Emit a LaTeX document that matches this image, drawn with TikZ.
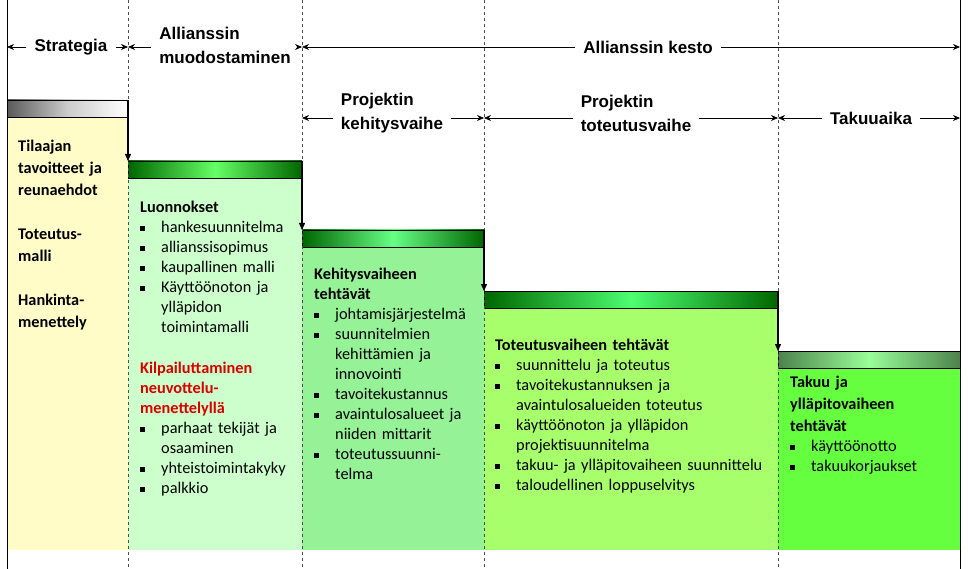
\documentclass[tikz,border=0pt]{standalone}
\usepackage{fontspec}
\setmainfont{Carlito}
\newfontfamily\arl{Liberation Sans}
\usetikzlibrary{arrows.meta}
\newcommand\bul{\makebox[21pt][l]{\rule[1.5pt]{5pt}{5pt}}}
\newcommand\itm[1]{\\\bul #1}
\newcommand\cnt{\\\hspace*{21pt}}
\begin{document}
\begin{tikzpicture}[x=1pt,y=-1pt,
  hdr/.style={font=\arl\bfseries\fontsize{17}{24}\selectfont,align=center,inner xsep=8pt,inner ysep=1pt},
  bodytxt/.style={anchor=north west,align=left,inner sep=0pt,font=\fontsize{16.3}{20}\selectfont},
  bar/.style={draw=black,line width=0.8pt},
  ar/.style={-{Stealth[length=7pt,width=6pt]},line width=0.7pt}]
\useasboundingbox (0,0) rectangle (968,569);
\hyphenpenalty=10000 \exhyphenpenalty=10000
% bodies
\fill[yellow!22] (7,117) rectangle (128,550);
\fill[green!20] (128,178) rectangle (302,550);
\fill[green!40!white!90!gray] (302,247) rectangle (484,550);
\fill[green!60!yellow!58!white] (484,308) rectangle (778,550);
\fill[green!80!yellow!75!white] (778,368) rectangle (960,550);
% bars
\shade[bar,left color=black!65,right color=white,middle color=black!20] (7,100) rectangle (128,117);
\shade[bar,left color=green!40!black,right color=green!40!black,middle color=green!60!white] (128,161) rectangle (302,178);
\shade[bar,left color=green!40!black,right color=green!40!black,middle color=green!80!cyan!60!white] (302,230) rectangle (484,247);
\shade[bar,left color=green!40!black,right color=green!40!black,middle color=green!80!cyan!70!white] (484,291) rectangle (778,308);
\shade[bar,left color=green!30!black!70,right color=green!30!black!70,middle color=green!40!white] (778,351) rectangle (960,368);
% vertical lines
\draw[line width=0.8pt] (7,0) -- (7,569);
\draw[line width=0.8pt] (960,0) -- (960,569);
\foreach \x in {128,302,484,778} \draw[dashed,line width=0.5pt,black!70] (\x,0) -- (\x,569);
% step arrows
\draw[line width=1.3pt,-{Triangle[length=7pt,width=6pt]}] (128,100) -- (128,161);
\draw[line width=1.3pt,-{Triangle[length=7pt,width=6pt]}] (302,161) -- (302,230);
\draw[line width=1.3pt,-{Triangle[length=7pt,width=6pt]}] (484,230) -- (484,291);
\draw[line width=1.3pt,-{Triangle[length=7pt,width=6pt]}] (778,291) -- (778,351);
% header coordinates
\coordinate (a0) at (7,47); \coordinate (a1) at (128,47); \coordinate (a2) at (302,47); \coordinate (a5) at (960,47);
\coordinate (b2) at (302,118); \coordinate (b3) at (484,118); \coordinate (b4) at (778,118); \coordinate (b5) at (960,118);
\node[hdr] (h1) at (71,47) {Strategia};
\node[hdr,align=left] (h2) at (225,45) {Allianssin\\muodostaminen};
\node[hdr] (h3) at (648,47) {Allianssin kesto};
\node[hdr,align=left] (h4) at (392,113) {Projektin\\kehitysvaihe};
\node[hdr,align=left] (h5) at (636,113) {Projektin\\toteutusvaihe};
\node[hdr] (h6) at (871,118) {Takuuaika};
\draw[ar] (h1.west) -- (a0); \draw[ar] (h1.east) -- (a1);
\draw[ar] (h2.west|-a1) -- (a1); \draw[ar] (h2.east|-a2) -- (a2);
\draw[ar] (h3.west) -- (a2); \draw[ar] (h3.east) -- (a5);
\draw[ar] (h4.west|-b2) -- (b2); \draw[ar] (h4.east|-b3) -- (b3);
\draw[ar] (h5.west|-b3) -- (b3); \draw[ar] (h5.east|-b4) -- (b4);
\draw[ar] (h6.west) -- (b4); \draw[ar] (h6.east) -- (b5);
% texts
\node[bodytxt,font=\bfseries\fontsize{16.3}{22}\selectfont,text width=110pt] (t1) at (18,140)
 {Tilaajan\\tavoitteet ja\\reunaehdot\\[22pt]Toteutus-\\malli\\[22pt]Hankinta-\\menettely};
\node[bodytxt,text width=170pt] (t2) at (140,201)
 {\textbf{Luonnokset}\itm{hankesuunnitelma}\itm{allianssisopimus}\itm{kaupallinen malli}\itm{Käyttöönoton ja}\cnt ylläpidon\cnt toimintamalli\\[21pt]
 \textcolor{red!85!black}{\textbf{Kilpailuttaminen}}\\\textcolor{red!85!black}{\textbf{neuvottelu-}}\\\textcolor{red!85!black}{\textbf{menettelyllä}}\itm{parhaat tekijät ja}\cnt osaaminen\itm{yhteistoimintakyky}\itm{palkkio}};
\node[bodytxt,text width=175pt] (t3) at (314,268)
 {\textbf{Kehitysvaiheen}\\\textbf{tehtävät}\itm{johtamisjärjestelmä}\itm{suunnitelmien}\cnt kehittämien ja\cnt innovointi\itm{tavoitekustannus}\itm{avaintulosalueet ja}\cnt niiden mittarit\itm{toteutussuunni-}\cnt telma};
\node[bodytxt,text width=290pt] (t4) at (495,339)
 {\textbf{Toteutusvaiheen tehtävät}\itm{suunnittelu ja toteutus}\itm{tavoitekustannuksen ja}\cnt avaintulosalueiden toteutus\itm{käyttöönoton ja ylläpidon}\cnt projektisuunnitelma\itm{takuu- ja ylläpitovaiheen suunnittelu}\itm{taloudellinen loppuselvitys}};
\node[bodytxt,text width=175pt] (t5) at (790,376)
 {\textbf{Takuu ja}\\[2pt]\textbf{ylläpitovaiheen}\\[2pt]\textbf{tehtävät}\itm{käyttöönotto}\itm{takuukorjaukset}};
\end{tikzpicture}
\end{document}
